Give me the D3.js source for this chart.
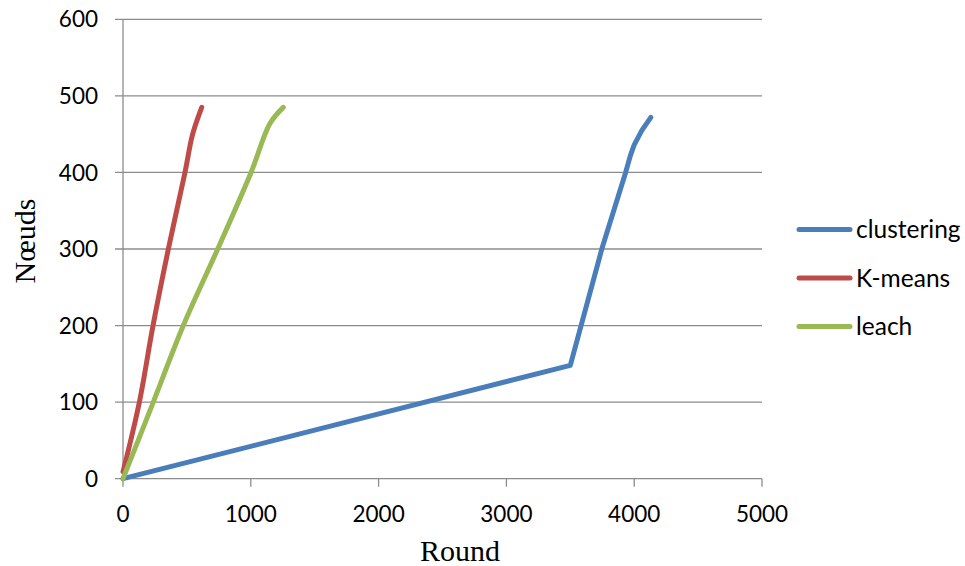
<!DOCTYPE html>
<html><head><meta charset="utf-8">
<script src="https://cdn.jsdelivr.net/npm/d3@7"></script>
<style>body{margin:0;background:#fff}svg{display:block}</style>
</head><body>
<script>
const seriesNames = ["clustering", "K-means", "leach"];
const seriesColors = ["#4A7EBB", "#BE4B48", "#98B954"];
const clusteringX = [0, 3500, 3750, 3933, 3970, 4000, 4060, 4130];
const clusteringY = [0, 148, 302, 400, 422, 436, 455, 472];
const kmeansX = [0, 128, 235, 355, 485, 545, 616];
const kmeansY = [9, 100, 200, 300, 400, 450, 485];
const leachX = [0, 237, 472, 741, 1002, 1150, 1254];
const leachY = [0, 100, 200, 300, 400, 464, 485];
const xTicks = [0, 1000, 2000, 3000, 4000, 5000];
const yTicks = [0, 100, 200, 300, 400, 500, 600];

const W = 965, H = 566;
const svg = d3.select("body").append("svg").attr("width", W).attr("height", H);
const x = d3.scaleLinear().domain([0, 5000]).range([123, 762]);
const y = d3.scaleLinear().domain([0, 600]).range([478.7, 19.3]);
const tickFont = "Lato, 'Open Sans', sans-serif";

// grid
svg.append("g").selectAll("line").data(yTicks).join("line")
  .attr("x1", 115).attr("x2", 762)
  .attr("y1", d => y(d)).attr("y2", d => y(d))
  .attr("stroke", "#8c8c8c").attr("stroke-width", 1.3);
// y axis line
svg.append("line").attr("x1", x(0)).attr("x2", x(0)).attr("y1", y(600)).attr("y2", y(0) + 8)
  .attr("stroke", "#8c8c8c").attr("stroke-width", 1.3);
// x ticks
svg.append("g").selectAll("line").data(xTicks.slice(1)).join("line")
  .attr("x1", d => x(d)).attr("x2", d => x(d)).attr("y1", y(0)).attr("y2", y(0) + 8)
  .attr("stroke", "#8c8c8c").attr("stroke-width", 1.3);

// y labels
svg.append("g").selectAll("text").data(yTicks).join("text")
  .attr("x", 98).attr("y", d => y(d)).attr("dy", "0.36em")
  .attr("text-anchor", "end").attr("font-family", tickFont).attr("font-size", 22.5)
  .text(d => d);
// x labels
svg.append("g").selectAll("text").data(xTicks).join("text")
  .attr("x", d => x(d)).attr("y", 522)
  .attr("text-anchor", "middle").attr("font-family", tickFont).attr("font-size", 22.5)
  .text(d => d);

// axis titles
svg.append("text").attr("x", 460).attr("y", 561).attr("text-anchor", "middle")
  .attr("font-family", "'Liberation Serif', 'Times New Roman', serif").attr("font-size", 30).text("Round");
svg.append("text").attr("transform", "translate(35,241) rotate(-90)").attr("text-anchor", "middle")
  .attr("font-family", "'Liberation Serif', 'Times New Roman', serif").attr("font-size", 30).text("Nœuds");

// series
const series = [
  d3.zip(clusteringX, clusteringY),
  d3.zip(kmeansX, kmeansY),
  d3.zip(leachX, leachY)
];
const curves = [d3.curveLinear, d3.curveCatmullRom.alpha(0.5), d3.curveCatmullRom.alpha(0.5)];
series.forEach((s, i) => {
  const line = d3.line().x(d => x(d[0])).y(d => y(d[1])).curve(curves[i]);
  svg.append("path").attr("d", line(s)).attr("fill", "none")
    .attr("stroke", seriesColors[i]).attr("stroke-width", 5)
    .attr("stroke-linecap", "round").attr("stroke-linejoin", "round");
});

// legend
const lg = svg.append("g").selectAll("g").data(seriesNames).join("g")
  .attr("transform", (d, i) => `translate(0,${229.5 + i * 48.5})`);
lg.append("line").attr("x1", 799).attr("x2", 850).attr("y1", 0).attr("y2", 0)
  .attr("stroke", (d, i) => seriesColors[i]).attr("stroke-width", 5).attr("stroke-linecap", "round");
lg.append("text").attr("x", 856).attr("y", 0).attr("dy", "0.36em")
  .attr("font-family", tickFont).attr("font-size", 24.5).text(d => d);
</script>
</body></html>
